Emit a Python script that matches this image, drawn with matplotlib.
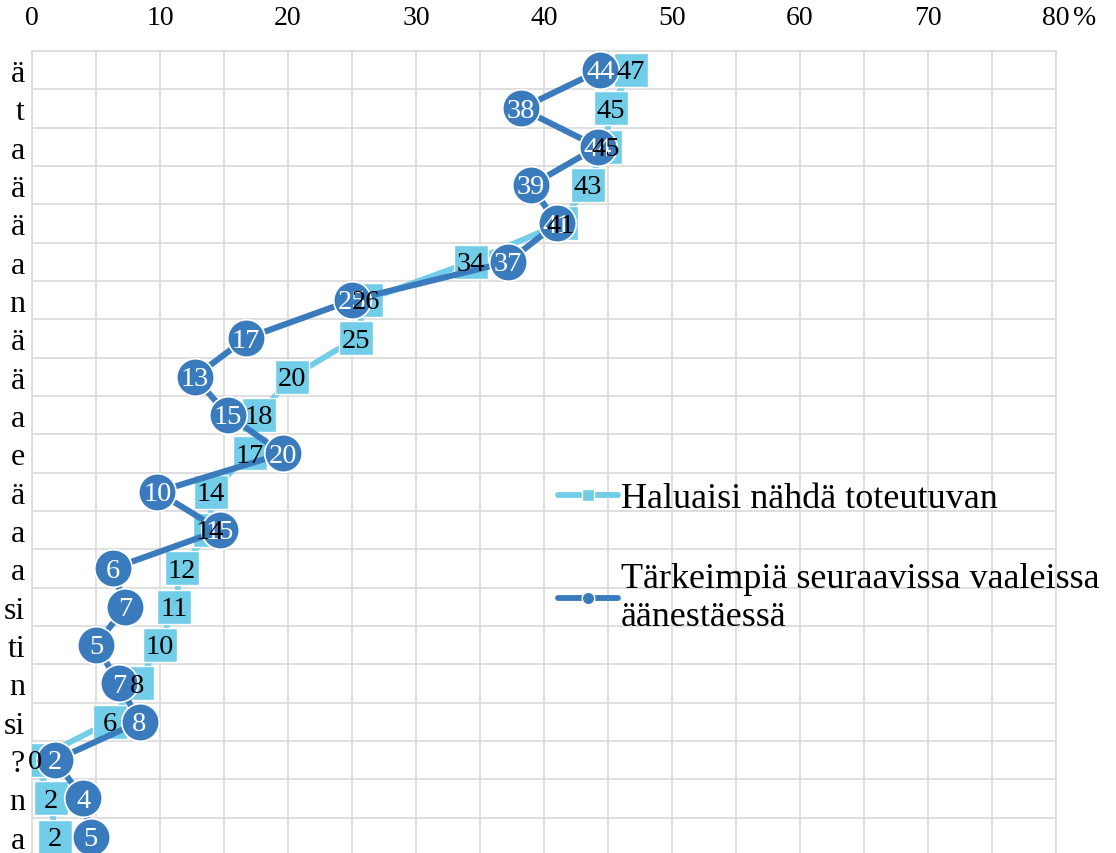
import matplotlib
matplotlib.use("Agg")
import matplotlib.pyplot as plt
from matplotlib.lines import Line2D
from matplotlib.ticker import MultipleLocator, FixedLocator
import numpy as np

plt.rcParams['font.family'] = ['Liberation Serif', 'DejaVu Serif']

# visible (cropped) ends of the category labels, top to bottom
categories = ["ä", "t", "a", "ä", "ä", "a", "n", "ä", "ä", "a", "e",
              "ä", "a", "a", "si", "ti", "n", "si", "?", "n", "a"]

series_names = ["Haluaisi nähdä toteutuvan",
                "Tärkeimpiä seuraavissa vaaleissa\näänestäessä"]

haluaisi = [46.8, 45.2, 44.8, 43.4, 41.3, 34.3, 26.1, 25.3, 20.3, 17.7, 17.0,
            14.0, 13.9, 11.7, 11.1, 10.0, 8.2, 6.1, 0.2, 1.5, 1.8]
tarkeimpia = [44.4, 38.2, 44.2, 39.0, 41.0, 37.2, 25.0, 16.7, 12.7, 15.3, 19.6,
              9.8, 14.7, 6.3, 7.3, 5.0, 6.8, 8.4, 1.8, 4.0, 4.6]

x_ticks = [0, 10, 20, 30, 40, 50, 60, 70, 80]

light = "#72CDE9"
dark = "#3A7BBE"
grid_c = "#DCDCDC"

W, H = 1116, 854
fig = plt.figure(figsize=(W / 100, H / 100), dpi=100)
ax_left, ax_right, ax_top, ax_bottom = 32, 1056, 52, 857
ax = fig.add_axes([ax_left / W, 1 - ax_bottom / H, (ax_right - ax_left) / W,
                   (ax_bottom - ax_top) / H])

y = np.arange(len(categories))

ax.plot(haluaisi, y, color=light, lw=4.2, marker="s", ms=24, mfc=light,
        mec="white", mew=1.0, zorder=3, solid_capstyle="round")
ax.plot(tarkeimpia, y, color=dark, lw=4.4, marker="o", ms=27, mfc=dark,
        mec="white", mew=1.2, zorder=4, solid_capstyle="round")

fs_lab = 20.5
for v, yy in zip(tarkeimpia, y):
    ax.text(v, yy + 0.04, f"{round(v):d}", ha="center", va="center",
            color="white", fontsize=fs_lab, zorder=5)
for v, yy in zip(haluaisi, y):
    ax.text(v, yy + 0.04, f"{round(v):d}", ha="center", va="center",
            color="black", fontsize=fs_lab, zorder=6)

ax.set_xlim(0, 80)
ax.set_ylim(len(categories) - 0.5, -0.5)

ax.xaxis.set_major_locator(FixedLocator(x_ticks))
ax.xaxis.set_minor_locator(MultipleLocator(5))
ax.set_xticklabels([str(t) for t in x_ticks])
ax.xaxis.tick_top()
ax.tick_params(axis="x", which="both", length=0, pad=15, labelsize=20)

ax.set_yticks(y)
ax.set_yticklabels(categories)
ax.yaxis.set_minor_locator(FixedLocator(np.arange(-0.5, len(categories), 1)))
ax.tick_params(axis="y", which="both", length=0, pad=5, labelsize=23)

ax.grid(True, axis="x", which="both", color=grid_c, lw=1.3)
ax.grid(True, axis="y", which="minor", color=grid_c, lw=1.3)
ax.grid(False, axis="y", which="major")
ax.set_axisbelow(True)
for s in ax.spines.values():
    s.set_color(grid_c)
    s.set_linewidth(1.3)

# "%" after the last tick label
ax.annotate("%", xy=(80, 1), xycoords=("data", "axes fraction"),
            xytext=(12, 15), textcoords="offset points", ha="left",
            va="bottom", fontsize=20)

handles = [
    Line2D([], [], color=light, lw=4.2, marker="s", ms=8, mfc=light, mec="white",
           mew=1.0, solid_capstyle="round"),
    Line2D([], [], color=dark, lw=4.2, marker="o", ms=9, mfc=dark, mec="white",
           mew=1.0, solid_capstyle="round"),
]
leg = fig.legend(handles, series_names, loc="upper left",
                 bbox_to_anchor=(558 / W, 1 - 483 / H), frameon=False,
                 fontsize=26, handlelength=1.65, handletextpad=0.1,
                 labelspacing=1.3, borderpad=0, borderaxespad=0)

fig.savefig("out.png", dpi=100)
